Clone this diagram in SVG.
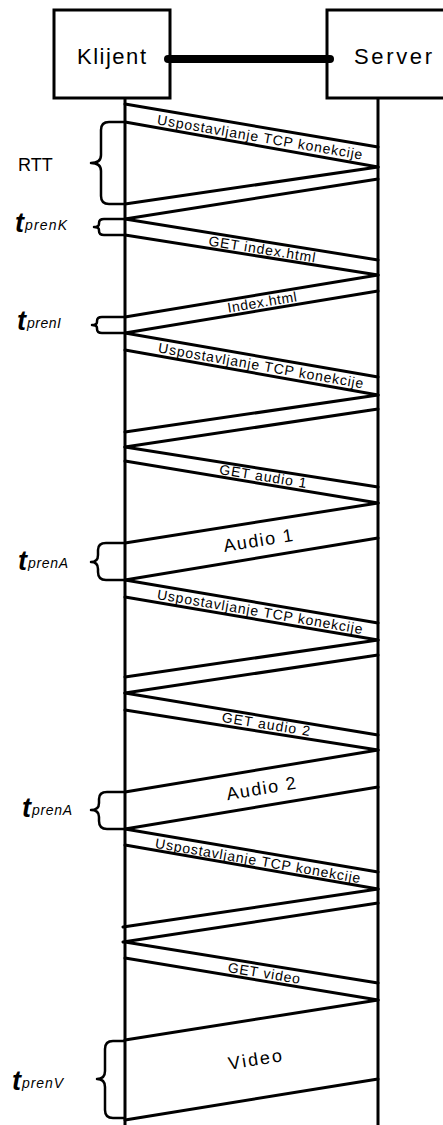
<svg xmlns="http://www.w3.org/2000/svg" width="443" height="1125" viewBox="0 0 443 1125">
<style>
.box{fill:#fff;stroke:#000;stroke-width:3}
.life{stroke:#000;stroke-width:3;fill:none}
.msg{stroke:#000;stroke-width:3;fill:none;stroke-linecap:round}
.brace{stroke:#000;stroke-width:2.5;fill:none;stroke-linejoin:round}
.name{font-family:"Liberation Sans",Arial,sans-serif;font-size:22px;fill:#000}
.lbl{font-family:"Liberation Sans",Arial,sans-serif;font-size:14px;fill:#000;text-anchor:middle}
.big{font-family:"Liberation Sans",Arial,sans-serif;font-size:18px;fill:#000;text-anchor:middle}
.rtt{font-family:"Liberation Sans",Arial,sans-serif;font-size:18px;fill:#000}
.t{font-family:"Liberation Sans",Arial,sans-serif;font-size:27px;font-style:italic;font-weight:bold;fill:#000}
.sub{font-family:"Liberation Sans",Arial,sans-serif;font-size:14px;font-style:italic;fill:#000}
</style>
<rect width="443" height="1125" fill="#fff"/>
<g id="klijent">
<rect class="box" x="54" y="10" width="116" height="88"/>
<text class="name" x="77" y="64" textLength="69">Klijent</text>
<line class="life" x1="125" y1="98" x2="125" y2="1125"/>
</g>
<g id="server">
<rect class="box" x="327" y="10" width="130" height="88"/>
<text class="name" x="354" y="64" textLength="78">Server</text>
<line class="life" x1="378" y1="98" x2="378" y2="1125"/>
</g>
<g id="connectors">
<line x1="168" y1="59" x2="330" y2="59" stroke="#000" stroke-width="8" stroke-linecap="round"/>
<line class="msg" x1="125" y1="104" x2="378" y2="147"/>
<line class="msg" x1="125" y1="122" x2="378" y2="167"/>
<line class="msg" x1="378" y1="167" x2="125" y2="204"/>
<line class="msg" x1="378" y1="179" x2="125" y2="219"/>
<line class="msg" x1="125" y1="219" x2="378" y2="260"/>
<line class="msg" x1="125" y1="235" x2="378" y2="275"/>
<line class="msg" x1="378" y1="275" x2="125" y2="317"/>
<line class="msg" x1="378" y1="291" x2="125" y2="333"/>
<line class="msg" x1="125" y1="333" x2="378" y2="377"/>
<line class="msg" x1="125" y1="350" x2="378" y2="395"/>
<line class="msg" x1="378" y1="395" x2="125" y2="432"/>
<line class="msg" x1="378" y1="409" x2="125" y2="447"/>
<line class="msg" x1="125" y1="447" x2="378" y2="487"/>
<line class="msg" x1="125" y1="461" x2="378" y2="503"/>
<line class="msg" x1="378" y1="503" x2="125" y2="543"/>
<line class="msg" x1="378" y1="538" x2="125" y2="580"/>
<line class="msg" x1="125" y1="580" x2="378" y2="623"/>
<line class="msg" x1="125" y1="597" x2="378" y2="640"/>
<line class="msg" x1="378" y1="640" x2="125" y2="677"/>
<line class="msg" x1="378" y1="655" x2="125" y2="693"/>
<line class="msg" x1="125" y1="693" x2="378" y2="735"/>
<line class="msg" x1="125" y1="710" x2="378" y2="750"/>
<line class="msg" x1="378" y1="750" x2="125" y2="792"/>
<line class="msg" x1="378" y1="787" x2="125" y2="829"/>
<line class="msg" x1="125" y1="829" x2="378" y2="872"/>
<line class="msg" x1="125" y1="845" x2="378" y2="889"/>
<line class="msg" x1="378" y1="889" x2="123" y2="927"/>
<line class="msg" x1="378" y1="903" x2="123" y2="942"/>
<line class="msg" x1="125" y1="942" x2="378" y2="983"/>
<line class="msg" x1="125" y1="958" x2="378" y2="1000"/>
<line class="msg" x1="378" y1="1000" x2="125" y2="1040"/>
<line class="msg" x1="378" y1="1079" x2="125" y2="1120"/>
</g>
<g id="msg-labels">
<text class="lbl" x="260" y="142" textLength="208" transform="rotate(9.8 260 136.5)">Uspostavljanje TCP konekcije</text>
<text class="lbl" x="262" y="254" textLength="108" transform="rotate(9.1 262 249)">GET index.html</text>
<text class="lbl" x="262" y="307" textLength="70" transform="rotate(-9.4 262 302)">Index.html</text>
<text class="lbl" x="261" y="370.5" textLength="208" transform="rotate(10 261 365)">Uspostavljanje TCP konekcije</text>
<text class="lbl" x="263" y="481" textLength="88" transform="rotate(9.2 263 476)">GET audio 1</text>
<text class="big" x="258" y="546.5" textLength="70" transform="rotate(-9.2 258 540)">Audio 1</text>
<text class="lbl" x="260" y="616.5" textLength="208" transform="rotate(9.7 260 611)">Uspostavljanje TCP konekcije</text>
<text class="lbl" x="266" y="729" textLength="89" transform="rotate(9.2 266 724)">GET audio 2</text>
<text class="big" x="261" y="794.5" textLength="70" transform="rotate(-9.4 261 788)">Audio 2</text>
<text class="lbl" x="258" y="865.5" textLength="208" transform="rotate(9.8 258 860)">Uspostavljanje TCP konekcije</text>
<text class="lbl" x="264" y="978" textLength="73" transform="rotate(9.3 264 973)">GET video</text>
<text class="big" x="255" y="1065.5" textLength="54" transform="rotate(-9.1 255 1059)">Video</text>
</g>
<g id="rtt">
<path class="brace" d="M125,122 H109 Q101,122 101,130 V155 Q101,163 91,163 Q101,163 101,171 V196 Q101,204 109,204 H125"/>
<text class="rtt" x="18" y="171">RTT</text>
</g>
<g id="tprenK">
<path class="brace" d="M125,219 H104 Q99,219 99,223 V224 Q99,227 94,227 Q99,227 99,230 V231 Q99,235 104,235 H125"/>
<text x="15" y="232"><tspan class="t">t</tspan><tspan class="sub" dx="1" dy="-2" textLength="42">prenK</tspan></text>
</g>
<g id="tprenI">
<path class="brace" d="M125,317 H102 Q97,317 97,321 V322 Q97,325 92,325 Q97,325 97,328 V329 Q97,333 102,333 H125"/>
<text x="17" y="330"><tspan class="t">t</tspan><tspan class="sub" dx="1" dy="-2" textLength="34">prenI</tspan></text>
</g>
<g id="tprenA1">
<path class="brace" d="M125,543 H106 Q98,543 98,550 V555 Q98,562 91,562 Q98,562 98,569 V572 Q98,580 106,580 H125"/>
<text x="18" y="570"><tspan class="t">t</tspan><tspan class="sub" dx="1" dy="-2" textLength="40">prenA</tspan></text>
</g>
<g id="tprenA2">
<path class="brace" d="M125,792 H107 Q99,792 99,799 V803 Q99,810 91,810 Q99,810 99,817 V821 Q99,829 107,829 H125"/>
<text x="22" y="817"><tspan class="t">t</tspan><tspan class="sub" dx="1" dy="-2" textLength="40">prenA</tspan></text>
</g>
<g id="tprenV">
<path class="brace" d="M125,1041 H113 Q105,1041 105,1049 V1071 Q105,1079 97,1079 Q105,1079 105,1087 V1110 Q105,1118 113,1118 H125"/>
<text x="12" y="1090"><tspan class="t">t</tspan><tspan class="sub" dx="1" dy="-2" textLength="41">prenV</tspan></text>
</g>
</svg>
